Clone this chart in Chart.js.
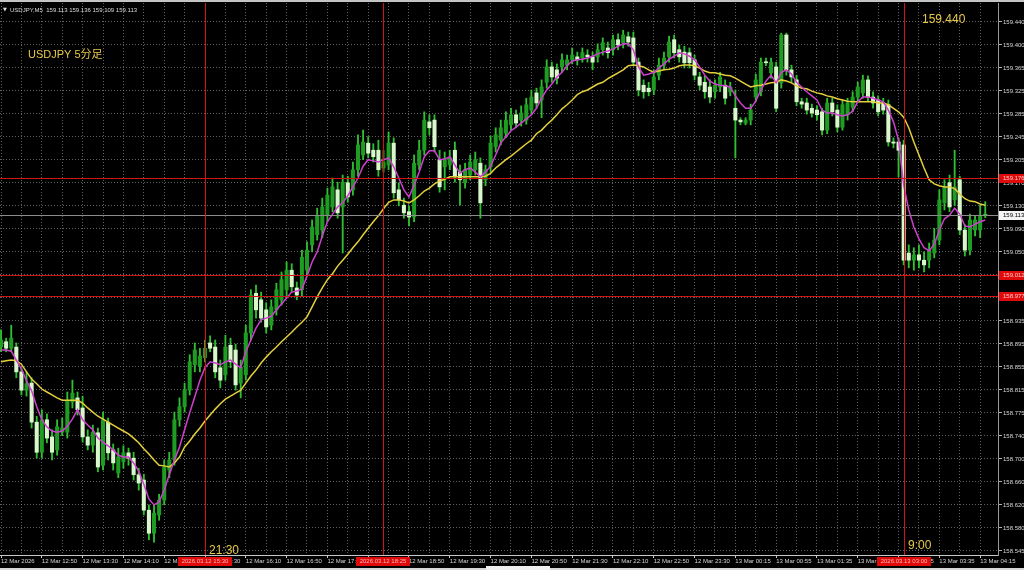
<!DOCTYPE html>
<html><head><meta charset="utf-8">
<script src="https://cdn.jsdelivr.net/npm/chart.js@4.4.1/dist/chart.umd.min.js"></script>
<style>html,body{margin:0;padding:0;background:#000;overflow:hidden}canvas{display:block}</style>
</head><body>
<canvas id="c" width="1024" height="570"></canvas>
<script>
const timeLabels = ['12 Mar 2026','12 Mar 12:50','12 Mar 13:30','12 Mar 14:10','12 Mar 14:50','12 Mar 15:30','12 Mar 16:10','12 Mar 16:50','12 Mar 17:30','12 Mar 18:10','12 Mar 18:50','12 Mar 19:30','12 Mar 20:10','12 Mar 20:50','12 Mar 21:30','12 Mar 22:10','12 Mar 22:50','12 Mar 23:30','13 Mar 00:15','13 Mar 00:55','13 Mar 01:35','13 Mar 02:15','13 Mar 02:55','13 Mar 03:35','13 Mar 04:15'];
const priceLabels = ['159.440','159.400','159.365','159.325','159.285','159.245','159.205','159.170','159.130','159.090','159.050','159.010','158.970','158.935','158.895','158.855','158.815','158.775','158.740','158.700','158.660','158.620','158.580','158.545'];

const opens = [
158.890,158.899,158.888,158.890,158.848,158.817,158.829,158.763,158.712,158.767,
158.738,158.716,158.746,158.746,158.797,158.804,158.787,158.738,158.724,158.745,
158.690,158.763,158.716,158.677,158.696,158.711,158.702,158.674,158.665,158.614,
158.575,158.606,158.631,158.682,158.699,158.767,158.789,158.817,158.860,158.858,
158.872,158.897,158.890,158.855,158.843,158.893,158.885,158.829,158.843,158.914,
158.981,158.970,158.953,158.927,158.953,158.970,158.987,159.020,158.990,158.987,
159.020,159.063,159.080,159.088,159.113,159.127,159.156,159.127,159.168,159.156,
159.190,159.215,159.235,159.223,159.223,159.193,159.198,159.235,159.156,159.130,
159.119,159.110,159.198,159.223,159.271,159.274,159.207,159.195,159.198,159.223,
159.186,159.168,159.181,159.190,159.201,159.173,159.195,159.229,159.240,159.252,
159.266,159.283,159.274,159.274,159.291,159.320,159.308,159.338,159.364,159.359,
159.364,159.367,159.376,159.381,159.379,159.384,159.381,159.381,159.393,159.396,
159.393,159.410,159.405,159.415,159.413,159.372,159.333,159.328,159.325,159.350,
159.367,159.381,159.410,159.393,159.389,159.388,159.376,159.347,159.338,159.330,
159.322,159.330,159.333,159.322,159.294,159.274,159.269,159.274,159.313,159.322,
159.372,159.354,159.364,159.337,159.418,159.359,159.342,159.305,159.303,159.294,
159.291,159.288,159.257,159.303,159.291,159.262,159.283,159.296,159.313,159.320,
159.342,159.313,159.308,159.303,159.300,159.237,159.237,159.232,159.049,159.037,
159.046,159.037,159.037,159.049,159.071,159.134,159.168,159.139,159.173,159.088,
159.054,159.088,159.088,159.113];
const highs = [
158.919,158.905,158.927,158.897,158.855,158.848,158.838,158.773,158.784,158.777,
158.750,158.767,158.770,158.814,158.834,158.814,158.807,158.750,158.758,158.753,
158.780,158.770,158.726,158.719,158.723,158.719,158.712,158.685,158.675,158.623,
158.623,158.641,158.699,158.712,158.780,158.804,158.829,158.877,158.897,158.888,
158.902,158.909,158.902,158.868,158.910,158.905,158.895,158.868,158.927,158.987,
158.995,158.983,158.965,158.970,158.998,159.017,159.034,159.031,159.000,159.054,
159.068,159.105,159.125,159.142,159.159,159.176,159.169,159.181,159.179,159.203,
159.249,159.257,159.246,159.234,159.240,159.223,159.254,159.244,159.168,159.142,
159.129,159.215,159.240,159.288,159.283,159.283,159.223,159.220,159.223,159.237,
159.198,159.201,159.215,159.220,159.210,159.198,159.247,159.261,159.274,159.288,
159.294,159.291,159.298,159.311,159.325,159.328,159.342,159.376,159.372,159.369,
159.386,159.384,159.396,159.389,159.396,159.393,159.389,159.403,159.413,159.406,
159.418,159.420,159.426,159.423,159.423,159.379,159.342,159.338,159.359,159.379,
159.389,159.416,159.418,159.401,159.399,159.396,159.384,159.355,159.349,159.342,
159.342,159.355,159.342,159.338,159.325,159.278,159.278,159.301,159.352,159.379,
159.379,159.379,159.372,159.421,159.421,159.367,159.350,159.311,159.311,159.301,
159.298,159.294,159.311,159.311,159.300,159.308,159.311,159.322,159.338,159.350,
159.349,159.322,159.315,159.311,159.308,159.244,159.244,159.240,159.063,159.058,
159.063,159.051,159.066,159.091,159.156,159.173,159.181,159.223,159.179,159.097,
159.115,159.113,159.130,159.136];
const lows = [
158.882,158.882,158.882,158.838,158.809,158.807,158.753,158.702,158.702,158.728,
158.699,158.707,158.740,158.736,158.787,158.775,158.729,158.716,158.712,158.679,
158.682,158.699,158.682,158.669,158.685,158.690,158.665,158.648,158.606,158.564,
158.560,158.597,158.623,158.669,158.690,158.756,158.780,158.809,158.848,158.848,
158.865,158.882,158.838,158.821,158.834,158.855,158.817,158.804,158.834,158.902,
158.939,158.932,158.914,158.919,158.944,158.961,158.976,158.983,158.970,158.976,
159.012,159.051,159.071,159.075,159.102,159.119,159.108,159.049,159.135,159.147,
159.179,159.207,159.210,159.203,159.179,159.186,159.190,159.142,159.129,159.108,
159.095,159.102,159.190,159.215,159.249,159.220,159.152,159.156,159.190,159.169,
159.130,159.159,159.173,159.181,159.108,159.163,159.186,159.220,159.232,159.244,
159.257,159.261,159.264,159.267,159.283,159.294,159.278,159.328,159.338,159.335,
159.355,159.359,159.369,159.367,159.372,159.372,159.359,159.372,159.384,159.379,
159.384,159.393,159.396,159.399,159.366,159.315,159.311,159.315,159.317,159.342,
159.359,159.372,159.379,159.372,159.362,159.362,159.342,159.325,159.311,159.303,
159.311,159.322,159.301,159.315,159.210,159.266,159.266,159.266,159.305,159.315,
159.366,159.345,159.288,159.328,159.350,159.338,159.298,159.294,159.284,159.279,
159.274,159.249,159.251,159.281,159.254,159.257,159.274,159.288,159.305,159.311,
159.305,159.294,159.281,159.284,159.230,159.227,159.178,159.029,159.024,159.020,
159.024,159.017,159.024,159.041,159.063,159.122,159.119,159.129,159.080,159.044,
159.046,159.078,159.075,159.109];
const closes = [
158.902,158.888,158.905,158.848,158.817,158.828,158.763,158.712,158.767,158.736,
158.712,158.755,158.753,158.800,158.812,158.784,158.738,158.724,158.746,158.687,
158.767,158.711,158.694,158.704,158.711,158.702,158.674,158.660,158.614,158.575,
158.609,158.631,158.687,158.699,158.767,158.789,158.817,158.865,158.885,158.875,
158.888,158.888,158.848,158.834,158.890,158.865,158.826,158.856,158.914,158.978,
158.953,158.939,158.924,158.958,158.987,159.004,159.020,158.992,158.978,159.042,
159.054,159.093,159.113,159.127,159.147,159.161,159.117,159.169,159.144,159.190,
159.232,159.237,159.218,159.212,159.190,159.203,159.235,159.151,159.139,159.117,
159.110,159.201,159.223,159.274,159.261,159.229,159.161,159.207,159.210,159.178,
159.173,159.190,159.203,159.207,159.134,159.190,159.235,159.249,159.261,159.274,
159.283,159.269,159.286,159.300,159.313,159.303,159.330,159.364,159.347,159.345,
159.376,159.376,159.384,159.376,159.388,159.381,159.372,159.393,159.405,159.388,
159.410,159.401,159.418,159.406,159.372,159.325,159.322,159.322,159.347,159.367,
159.379,159.406,159.388,159.381,159.371,159.371,159.350,159.333,159.322,159.313,
159.333,159.347,159.311,159.330,159.274,159.271,159.274,159.291,159.342,159.372,
159.371,159.372,159.294,159.418,159.359,159.347,159.305,159.301,159.291,159.286,
159.283,159.257,159.303,159.288,159.262,159.300,159.303,159.313,159.330,159.342,
159.313,159.303,159.288,159.291,159.237,159.235,159.223,159.037,159.037,159.046,
159.037,159.029,159.054,159.071,159.139,159.161,159.127,159.161,159.088,159.054,
159.105,159.105,159.113,159.113];
const maFast = [
158.885,158.885,158.883,158.868,158.853,158.833,158.816,158.789,158.767,158.755,
158.748,158.746,158.748,158.756,158.768,158.784,158.767,158.758,158.750,158.736,
158.729,158.723,158.716,158.707,158.704,158.704,158.694,158.680,158.658,158.633,
158.623,158.628,158.648,158.674,158.699,158.721,158.750,158.779,158.806,158.834,
158.855,158.865,158.863,158.860,158.865,158.868,158.861,158.855,158.882,158.902,
158.922,158.936,158.939,158.942,158.953,158.963,158.973,158.983,158.985,158.988,
159.010,159.034,159.051,159.078,159.102,159.115,159.127,159.134,159.146,159.161,
159.176,159.196,159.207,159.205,159.203,159.207,159.210,159.195,159.176,159.156,
159.144,159.164,159.186,159.212,159.222,159.222,159.207,159.208,159.212,159.198,
159.184,159.190,159.193,159.186,159.178,159.186,159.196,159.215,159.235,159.246,
159.256,159.262,159.269,159.276,159.283,159.294,159.311,159.325,159.335,159.347,
159.355,159.366,159.374,159.376,159.377,159.379,159.382,159.386,159.389,159.391,
159.394,159.399,159.403,159.403,159.393,159.364,159.350,159.352,159.355,159.362,
159.369,159.377,159.382,159.388,159.386,159.382,159.376,159.364,159.350,159.340,
159.335,159.333,159.332,159.330,159.315,159.303,159.294,159.294,159.306,159.325,
159.340,159.350,159.337,159.355,159.359,159.352,159.338,159.330,159.322,159.315,
159.308,159.291,159.286,159.286,159.283,159.281,159.283,159.289,159.305,159.313,
159.313,159.311,159.308,159.305,159.291,159.271,159.240,159.164,159.122,159.093,
159.073,159.058,159.053,159.064,159.088,159.107,159.113,159.125,159.115,159.095,
159.093,159.098,159.102,159.105];
const maSlow = [
158.865,158.867,158.868,158.867,158.861,158.848,158.836,158.828,158.819,158.814,
158.809,158.804,158.800,158.800,158.800,158.800,158.795,158.787,158.780,158.773,
158.768,158.763,158.758,158.753,158.748,158.743,158.736,158.728,158.718,158.709,
158.699,158.690,158.689,158.687,158.694,158.704,158.721,158.731,158.743,158.753,
158.765,158.775,158.785,158.794,158.802,158.807,158.812,158.817,158.829,158.841,
158.851,158.863,158.873,158.882,158.890,158.899,158.907,158.915,158.924,158.932,
158.941,158.958,158.975,158.990,159.004,159.014,159.027,159.037,159.047,159.058,
159.068,159.080,159.091,159.102,159.112,159.124,159.135,159.139,159.139,159.137,
159.134,159.139,159.146,159.154,159.159,159.166,159.171,159.174,159.178,159.178,
159.178,159.178,159.178,159.178,159.178,159.179,159.184,159.193,159.200,159.207,
159.213,159.220,159.227,159.234,159.240,159.251,159.257,159.266,159.274,159.283,
159.293,159.300,159.308,159.317,159.322,159.325,159.330,159.335,159.338,159.344,
159.349,159.354,159.359,159.366,159.367,159.366,159.364,159.359,159.355,159.357,
159.359,159.360,159.362,159.366,159.367,159.367,159.366,159.362,159.357,159.354,
159.354,159.352,159.350,159.349,159.345,159.340,159.335,159.330,159.332,159.333,
159.335,159.337,159.338,159.342,159.340,159.337,159.332,159.328,159.327,159.323,
159.320,159.318,159.315,159.313,159.310,159.308,159.306,159.305,159.305,159.305,
159.305,159.305,159.303,159.303,159.300,159.294,159.288,159.279,159.261,159.237,
159.215,159.193,159.173,159.166,159.163,159.161,159.161,159.158,159.149,159.141,
159.137,159.136,159.132,159.130];

const levelsRed = [159.176, 159.012, 158.977];
const levelCurrent = 159.113;
const vLineBars = [40, 75, 177];
const vLineTimes = ['2026.03.12 15:30', '2026.03.12 18:25', '2026.03.13 03:00'];
const headerText = 'USDJPY,M5  159.113 159.136 159.109 159.113';
const titleText = 'USDJPY 5分足';
const noteHigh = '159.440';
const noteTimes = ['21:30', '9:00'];

const X_MIN = -0.2, X_MAX = 195.5, Y_MIN = 158.5382, Y_MAX = 159.4721;
const FONT = '"Liberation Sans", Arial, sans-serif';

const idx = opens.map((_, i) => i);
const yTop = parseFloat(priceLabels[0]);
const yBot = parseFloat(priceLabels[priceLabels.length - 1]);
const yStep = (yTop - yBot) / (priceLabels.length - 1);
const yTickVals = priceLabels.map((_, k) => yTop - k * yStep);
const xTickVals = [];
for (let v = 0; v <= (timeLabels.length - 1) * 8; v += 4) xTickVals.push(v);

const bodyColor = idx.map(i => closes[i] > opens[i] ? '#1f9c22' : (closes[i] < opens[i] ? '#d8f8cc' : '#36c436'));

const overlay = {
  id: 'overlay',
  beforeDraw(chart) {
    const c = chart.ctx; c.save(); c.fillStyle = '#000'; c.fillRect(0, 0, chart.width, chart.height); c.restore();
  },
  afterDatasetsDraw(chart) {
    const {ctx, chartArea: a, scales: {x, y}} = chart;
    ctx.save();
    ctx.beginPath(); ctx.rect(a.left, a.top, a.right - a.left, a.bottom - a.top); ctx.clip();
    ctx.lineWidth = 1;
    ctx.strokeStyle = '#8c8c8c';
    let py = Math.round(y.getPixelForValue(levelCurrent)) + 0.5;
    ctx.beginPath(); ctx.moveTo(a.left, py); ctx.lineTo(a.right, py); ctx.stroke();
    ctx.strokeStyle = '#d01414';
    levelsRed.forEach(v => {
      const p = Math.round(y.getPixelForValue(v)) + 0.5;
      ctx.beginPath(); ctx.moveTo(a.left, p); ctx.lineTo(a.right, p); ctx.stroke();
    });
    vLineBars.forEach(b => {
      const p = Math.round(x.getPixelForValue(b)) + 0.5;
      ctx.beginPath(); ctx.moveTo(p, a.top); ctx.lineTo(p, a.bottom); ctx.stroke();
    });
    ctx.restore();
  },
  afterDraw(chart) {
    const {ctx, chartArea: a, scales: {x, y}} = chart;
    ctx.save();
    // window strips
    ctx.fillStyle = '#c4c4c4'; ctx.fillRect(0, 0, chart.width, 2);
    ctx.fillStyle = '#d8d8d8'; ctx.fillRect(0, 568, chart.width, 2);
    ctx.fillStyle = '#f0f0f0'; ctx.fillRect(486, 566, 64, 4);
    // header
    ctx.textBaseline = 'middle'; ctx.textAlign = 'left';
    ctx.fillStyle = '#dcdcdc';
    ctx.font = '5px "DejaVu Sans"'; ctx.fillText('▼', 3, 10);
    ctx.font = '6px ' + FONT; ctx.fillText(headerText, 10, 10);
    // notes
    ctx.fillStyle = '#e6c84a';
    ctx.font = '11px "Liberation Sans", "Noto Sans CJK JP", sans-serif';
    ctx.fillText(titleText, 28, 55);
    ctx.font = '12px ' + FONT;
    ctx.fillText(noteHigh, 922, 20);
    ctx.fillText(noteTimes[0], 209, 551);
    ctx.fillText(noteTimes[1], 908, 546);
    // price boxes
    ctx.font = '6px ' + FONT;
    levelsRed.forEach(v => {
      const p = y.getPixelForValue(v);
      ctx.fillStyle = '#e00a0a'; ctx.fillRect(999, Math.round(p) - 4, 25, 9);
      ctx.fillStyle = '#ffc8c8'; ctx.fillText(v.toFixed(3), 1003, Math.round(p) + 0.5);
    });
    const pc = y.getPixelForValue(levelCurrent);
    ctx.fillStyle = '#f4f4f4'; ctx.fillRect(999, Math.round(pc) - 4, 25, 9);
    ctx.fillStyle = '#000'; ctx.fillText(levelCurrent.toFixed(3), 1003, Math.round(pc) + 0.5);
    // time boxes
    ctx.textAlign = 'center';
    vLineBars.forEach((b, k) => {
      const p = x.getPixelForValue(b);
      ctx.fillStyle = '#e00a0a'; ctx.fillRect(Math.round(p) - 27, 557, 54, 9);
      ctx.fillStyle = '#ffb4b4'; ctx.fillText(vLineTimes[k], Math.round(p), 561.5);
    });
    ctx.restore();
  }
};

new Chart(document.getElementById('c'), {
  type: 'bar',
  data: {
    datasets: [
      { type: 'line', label: 'MA fast', data: idx.map(i => ({x: i, y: maFast[i]})), borderColor: '#cf3fd0', borderWidth: 1.5, pointRadius: 0, tension: 0, order: 0 },
      { type: 'line', label: 'MA slow', data: idx.map(i => ({x: i, y: maSlow[i]})), borderColor: '#e4cf3c', borderWidth: 1.5, pointRadius: 0, tension: 0, order: 1 },
      { type: 'bar', label: 'body', data: idx.map(i => ({x: i, y: [Math.min(opens[i], closes[i]), Math.max(opens[i], closes[i])]})), backgroundColor: bodyColor, borderWidth: 0, barThickness: 3.4, minBarLength: 1, grouped: false, order: 2 },
      { type: 'bar', label: 'wick', data: idx.map(i => ({x: i, y: [lows[i], highs[i]]})), backgroundColor: '#2fbf30', borderWidth: 0, barThickness: 1.2, grouped: false, order: 3 }
    ]
  },
  options: {
    responsive: false, animation: false, devicePixelRatio: 1, events: [],
    layout: { padding: { top: 3, left: 0, right: 0, bottom: 0 } },
    plugins: { legend: { display: false }, tooltip: { enabled: false } },
    scales: {
      x: {
        type: 'linear', position: 'bottom', min: X_MIN, max: X_MAX, offset: false, bounds: 'data',
        grid: { offset: false, color: 'rgba(150,150,150,0.65)', tickLength: 3,
          tickColor: (c) => (c.tick && c.tick.value % 8 === 0) ? '#c8c8c8' : 'rgba(0,0,0,0)' },
        border: { display: true, color: '#c8c8c8', dash: [1, 2] },
        afterBuildTicks: (s) => { s.ticks = xTickVals.map(v => ({value: v})); },
        afterFit: (s) => { s.height = 15; s.paddingLeft = 0; s.paddingRight = 0; },
        ticks: { autoSkip: false, maxRotation: 0, minRotation: 0, align: 'start', padding: 0, color: '#d6d6d6',
          font: { family: FONT, size: 6, lineHeight: 1 },
          callback: (v) => (v % 8 === 0) ? timeLabels[v / 8] : '' }
      },
      y: {
        type: 'linear', position: 'right', min: Y_MIN, max: Y_MAX, bounds: 'data', beginAtZero: false,
        grid: { color: 'rgba(150,150,150,0.65)', tickLength: 4, tickColor: '#b0b0b0' },
        border: { display: true, color: '#9a9a9a', dash: [1, 2] },
        afterBuildTicks: (s) => { s.ticks = yTickVals.map(v => ({value: v})); },
        afterFit: (s) => { s.width = 26; s.paddingTop = 0; s.paddingBottom = 0; },
        ticks: { autoSkip: false, padding: 1, color: '#d6d6d6', font: { family: FONT, size: 6, lineHeight: 1 },
          callback: (v, i) => priceLabels[i] }
      }
    }
  },
  plugins: [overlay]
});
</script>
</body></html>
